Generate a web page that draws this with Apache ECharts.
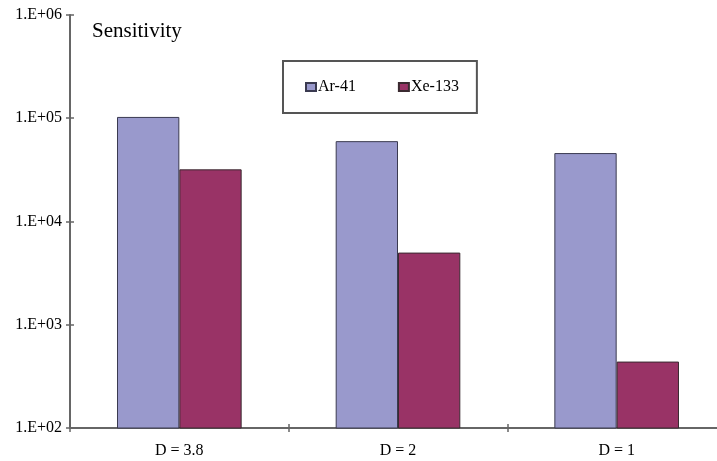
<!DOCTYPE html>
<html>
<head>
<meta charset="utf-8">
<script src="https://cdn.jsdelivr.net/npm/echarts@6/dist/echarts.min.js"></script>
<style>
  html, body { margin: 0; padding: 0; background: #fff; }
  #chart { width: 717px; height: 461px; }
</style>
</head>
<body>
<div id="chart"></div>
<script>
// Detection sensitivity for two isotopes at three distances
const categories = ['D = 3.8', 'D = 2', 'D = 1'];
const seriesNames = ['Ar-41', 'Xe-133'];
const ar41 = [103000, 60000, 46000];
const xe133 = [32000, 5000, 440];
const yMin = 100;
const yMax = 1000000;

const serif = '"Liberation Serif", "DejaVu Serif", serif';
const axisGray = '#666';

function sciLabel(v) {
  const e = Math.round(Math.log10(v));
  return '1.E+' + String(e).padStart(2, '0');
}

const chart = echarts.init(document.getElementById('chart'));
chart.setOption({
  backgroundColor: '#ffffff',
  animation: false,
  textStyle: { fontFamily: serif, color: '#000' },
  title: {
    text: 'Sensitivity',
    left: 87,
    top: 16,
    textStyle: { fontFamily: serif, fontSize: 21, fontWeight: 'normal', color: '#000' }
  },
  legend: {
    data: seriesNames,
    left: 283,
    top: 61,
    orient: 'horizontal',
    padding: [18, 18, 18, 22],
    itemWidth: 10,
    itemHeight: 8,
    itemGap: 42,
    icon: 'rect',
    borderColor: '#555',
    borderWidth: 2,
    backgroundColor: '#fff',
    textStyle: { fontFamily: serif, fontSize: 16, color: '#000', padding: [0, 0, 0, -3] }
  },
  grid: {
    left: 70,
    top: 15,
    width: 656,
    bottom: 33,
    outerBoundsMode: 'none',
    containLabel: false
  },
  xAxis: [
    {
      type: 'category',
      data: categories,
      axisLine: { show: true, lineStyle: { color: axisGray, width: 2 } },
      axisTick: { show: true, length: 4, lineStyle: { color: axisGray, width: 1.5 } },
      axisLabel: { fontFamily: serif, fontSize: 16, color: '#000', margin: 15 },
      splitLine: { show: false }
    },
    {
      // inward half of the crossing tick marks
      type: 'category',
      data: categories,
      position: 'bottom',
      axisLine: { show: false },
      axisTick: { show: true, inside: true, length: 4, lineStyle: { color: axisGray, width: 1.5 } },
      axisLabel: { show: false },
      splitLine: { show: false }
    }
  ],
  yAxis: [
    {
      type: 'log',
      logBase: 10,
      min: yMin,
      max: yMax,
      axisLine: { show: true, lineStyle: { color: axisGray, width: 2 } },
      axisTick: { show: true, length: 4, lineStyle: { color: axisGray, width: 1.5 } },
      axisLabel: {
        fontFamily: serif,
        fontSize: 16,
        color: '#000',
        margin: 8,
        formatter: sciLabel
      },
      splitLine: { show: false },
      minorTick: { show: false }
    },
    {
      // inward half of the crossing tick marks
      type: 'log',
      logBase: 10,
      min: yMin,
      max: yMax,
      position: 'left',
      axisLine: { show: false },
      axisTick: { show: true, inside: true, length: 4, lineStyle: { color: axisGray, width: 1.5 } },
      axisLabel: { show: false },
      splitLine: { show: false },
      minorTick: { show: false }
    }
  ],
  series: [
    {
      name: seriesNames[0],
      type: 'bar',
      data: ar41,
      barGap: '0%',
      barCategoryGap: '43%',
      itemStyle: { color: '#9999cc', borderColor: '#3a3a50', borderWidth: 1 }
    },
    {
      name: seriesNames[1],
      type: 'bar',
      data: xe133,
      barGap: '0%',
      barCategoryGap: '43%',
      itemStyle: { color: '#993366', borderColor: '#3a2a30', borderWidth: 1 }
    }
  ]
});
</script>
</body>
</html>
